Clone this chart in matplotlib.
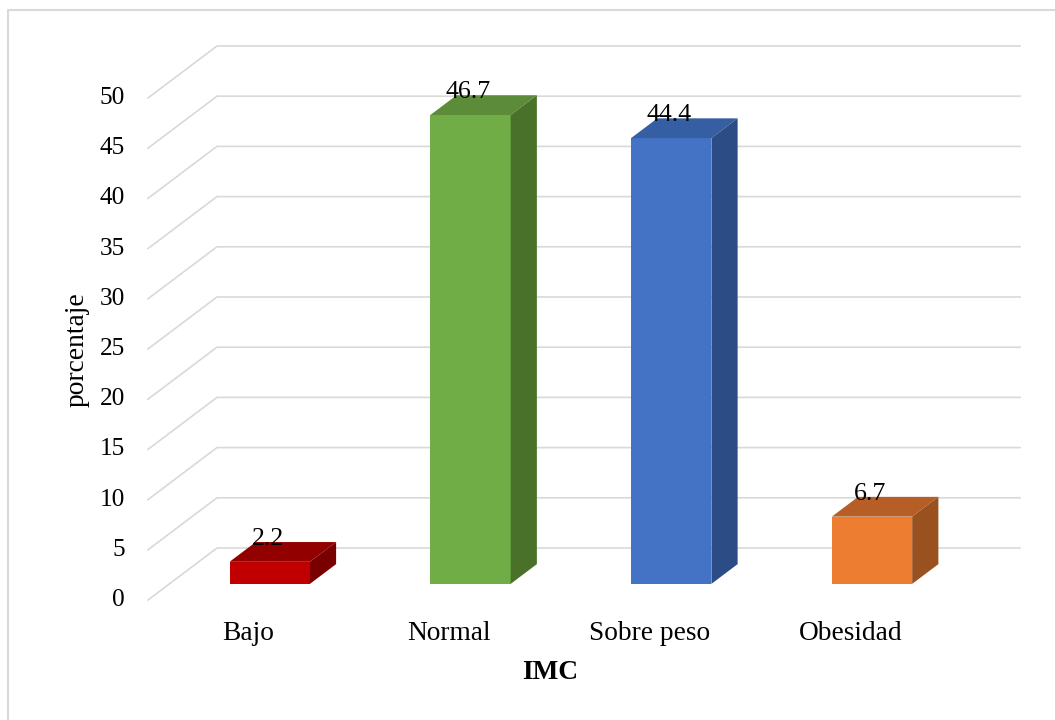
import numpy as np
import matplotlib
matplotlib.use("Agg")
import matplotlib.pyplot as plt
from matplotlib.patches import Polygon
from matplotlib.lines import Line2D

plt.rcParams['font.family'] = ['Liberation Serif', 'DejaVu Serif']

# data
categorias = ['Bajo', 'Normal', 'Sobre peso', 'Obesidad']
porcentaje = [2.2, 46.7, 44.4, 6.7]
ticks_y = [0, 5, 10, 15, 20, 25, 30, 35, 40, 45, 50]
etiquetas = ['2.2', '46.7', '44.4', '6.7']

# colours: front, top, side
c_frente = ['#C00000', '#70AD47', '#4472C4', '#ED7D31']
c_arriba = ['#920000', '#5C8C3A', '#365EA3', '#B65E25']
c_lado = ['#780000', '#4A7129', '#2C4C86', '#9A5120']

# fake 3d geometry (x in category units, y in value units)
dx, dy = 0.3437, 5.18      # shift of the full floor depth
d0, d1 = 0.31, 0.69        # bar depth start / end
ancho = 0.4

fig = plt.figure(figsize=(10.55, 7.2), dpi=100)
ax = fig.add_axes([0, 0, 1, 1])
ax.set_xlim(-1.237, 4.018)
ax.set_ylim(-11.95, 59.76)
ax.axis('off')

# gridlines: side wall diagonal + back wall
for v in ticks_y:
    ax.plot([-0.5, -0.5 + dx, len(categorias) - 0.5 + dx],
            [v, v + dy, v + dy], color='#D9D9D9', lw=1.2, zorder=1)
    ax.text(-0.615, v, str(v), ha='right', va='center', fontsize=18.3, color='#000000')

x = np.arange(len(categorias))
xc = x + d0 * dx
yb = d0 * dy
ddx = (d1 - d0) * dx
ddy = (d1 - d0) * dy

ax.bar(xc, porcentaje, width=ancho, bottom=yb, color=c_frente, lw=0, zorder=3)
for i, v in enumerate(porcentaje):
    izq, der = xc[i] - ancho / 2, xc[i] + ancho / 2
    top = yb + v
    ax.add_patch(Polygon([(izq, top), (der, top), (der + ddx, top + ddy), (izq + ddx, top + ddy)],
                         closed=True, fc=c_arriba[i], ec='none', zorder=3))
    ax.add_patch(Polygon([(der, yb), (der + ddx, yb + ddy), (der + ddx, top + ddy), (der, top)],
                         closed=True, fc=c_lado[i], ec='none', zorder=3))
    ax.text(xc[i] - 0.01, top + ddy - 0.3, etiquetas[i], ha='center', va='baseline',
            fontsize=18.6, color='#000000', zorder=4)
    ax.text(x[i], -3.3, categorias[i], ha='center', va='center', fontsize=19.7, color='#000000')

ax.text(-0.853, 24.9, 'porcentaje', rotation=90, ha='center', va='center', fontsize=19.8)
ax.text(1.503, -7.17, 'IMC', ha='center', va='center', fontsize=19.7, fontweight='bold')

# chart border (only top and left edges are inside the picture)
fig.add_artist(Line2D([8 / 1055, 8 / 1055, 1.0], [0.0, 1 - 10 / 720, 1 - 10 / 720],
                      transform=fig.transFigure, color='#D9D9D9', lw=1.5))

fig.savefig('out.png', dpi=100)
